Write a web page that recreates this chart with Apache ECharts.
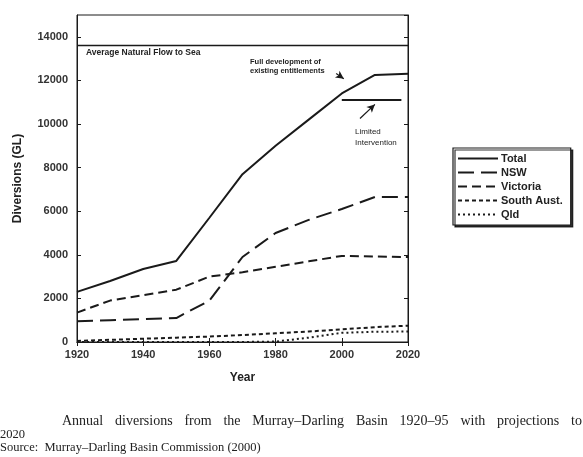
<!DOCTYPE html>
<html><head><meta charset="utf-8">
<script src="https://cdn.jsdelivr.net/npm/echarts@6/dist/echarts.min.js"></script>
<style>html,body{margin:0;padding:0;background:#fff}#c{width:583px;height:457px}</style>
</head><body><div id="c"></div>
<script>
const years = [1920, 1930, 1940, 1950, 1960, 1970, 1980, 1990, 2000, 2010, 2020];
const total    = [2300, 2800, 3350, 3720, 5700, 7700, 9000, 10200, 11400, 12250, 12300];
const nsw      = [950, 1000, 1050, 1100, 1900, 3900, 5000, 5600, 6100, 6650, 6650];
const victoria = [1350, 1900, 2150, 2400, 3000, 3200, 3450, 3700, 3950, 3920, 3900];
const southAust= [50, 100, 150, 200, 250, 320, 400, 480, 580, 680, 750];
const qld      = [0, 0, 0, 0, 0, 0, 20, 200, 420, 470, 480];
const seriesNames = ['Total', 'NSW', 'Victoria', 'South Aust.', 'Qld'];
const flowToSea = 13600;
const limitedYears = [2000, 2018];
const limitedValue = 11100;
const yTicks = [0, 2000, 4000, 6000, 8000, 10000, 12000, 14000];
const xTicks = [1920, 1940, 1960, 1980, 2000, 2020];
const captionWords = ['Annual', 'diversions', 'from', 'the', 'Murray\u2013Darling', 'Basin', '1920\u201395', 'with', 'projections', 'to'];

const pair = arr => years.map((y, i) => [y, arr[i]]);
const dashes = [null, [16, 7], [9, 5], [4, 3], [2, 3]];
const allData = [total, nsw, victoria, southAust, qld];
const ink = '#1a1a1a';
const tickFont = {fontFamily: 'Arial, Liberation Sans, sans-serif', fontSize: 11, fontWeight: 'bold', color: '#333'};

const chart = echarts.init(document.getElementById('c'), null, {renderer: 'canvas'});
const series = seriesNames.map((n, i) => ({
  name: n, type: 'line', data: pair(allData[i]), showSymbol: false, symbol: 'none',
  lineStyle: {color: ink, width: 2, type: dashes[i] || 'solid'}, itemStyle: {color: ink}, z: 5
}));
series.push({
  name: 'flow', type: 'line', data: [[xTicks[0], flowToSea], [xTicks[xTicks.length-1], flowToSea]],
  showSymbol: false, symbol: 'none', lineStyle: {color: ink, width: 1.5}, silent: true
});
series.push({
  name: 'limited', type: 'line', data: limitedYears.map(y => [y, limitedValue]),
  showSymbol: false, symbol: 'none', lineStyle: {color: ink, width: 2}, silent: true,
  markLine: {
    silent: true, symbol: ['none', 'arrow'], symbolSize: [6, 8],
    lineStyle: {color: ink, width: 1.2, type: 'solid'}, label: {show: false},
    data: [
      [{coord: [2005.5, 10250]}, {coord: [2010, 10900]}],
      [{coord: [1998.3, 12320]}, {coord: [2000.6, 12080]}]
    ]
  }
});

// justified caption line
const capFont = '12.5px "Liberation Serif", Times, serif';
const capFont1 = '14px "Liberation Serif", Times, serif';
const ctx = document.createElement('canvas').getContext('2d');
ctx.font = capFont1;
const capLeft = 62, capRight = 582;
const wordW = captionWords.map(w => ctx.measureText(w).width);
const gap = (capRight - capLeft - wordW.reduce((a, b) => a + b, 0)) / (captionWords.length - 1);
let cx = capLeft;
const capGraphics = captionWords.map((w, i) => {
  const g = {type: 'text', left: cx, top: 414, style: {text: w, font: capFont1, fill: '#222'}};
  cx += wordW[i] + gap;
  return g;
});

chart.setOption({
  animation: false,
  backgroundColor: '#fff',
  grid: {left: 77, right: 175, top: 15, bottom: 115, show: true, borderColor: ink, borderWidth: 1},
  legend: {
    data: seriesNames, orient: 'vertical', left: 453, top: 148,
    itemWidth: 40, itemHeight: 10, itemGap: 3, padding: [5, 8, 5, 4],
    borderColor: ink, borderWidth: 1.2, backgroundColor: '#fff',
    shadowColor: 'rgba(0,0,0,0.8)', shadowOffsetX: 2, shadowOffsetY: 2, shadowBlur: 0,
    itemStyle: {opacity: 0},
    lineStyle: {width: 2},
    textStyle: {fontFamily: 'Arial, Liberation Sans, sans-serif', fontSize: 11, fontWeight: 'bold', color: '#222', padding: [0, 0, 0, -2]},
    selectedMode: false
  },
  xAxis: [{
    type: 'value', min: 1920, max: 2020, interval: 20,
    name: 'Year', nameLocation: 'middle', nameGap: 30,
    nameTextStyle: {fontFamily: 'Arial, Liberation Sans, sans-serif', fontSize: 12, fontWeight: 'bold', color: '#222'},
    axisLine: {lineStyle: {color: ink}}, axisTick: {inside: true, length: 4, lineStyle: {color: ink}},
    axisLabel: Object.assign({margin: 7, formatter: v => String(v)}, tickFont), splitLine: {show: false}
  }, {
    type: 'value', min: 1920, max: 2020, interval: 20, position: 'top',
    axisLine: {lineStyle: {color: ink}}, axisTick: {inside: true, length: 4, lineStyle: {color: ink}},
    axisLabel: {show: false}, splitLine: {show: false}
  }],
  yAxis: [{
    type: 'value', min: 0, max: 15000, interval: 2000,
    name: 'Diversions (GL)', nameLocation: 'middle', nameGap: 53, nameRotate: 90,
    nameTextStyle: {fontFamily: 'Arial, Liberation Sans, sans-serif', fontSize: 12, fontWeight: 'bold', color: '#222'},
    axisLine: {lineStyle: {color: ink}}, axisTick: {inside: true, length: 4, lineStyle: {color: ink}},
    axisLabel: Object.assign({margin: 9, showMaxLabel: false, formatter: v => String(v)}, tickFont), splitLine: {show: false}
  }, {
    type: 'value', min: 0, max: 15000, interval: 2000, position: 'right',
    axisLine: {lineStyle: {color: ink}}, axisTick: {inside: true, length: 4, lineStyle: {color: ink}},
    axisLabel: {show: false}, splitLine: {show: false}
  }],
  series: series,
  graphic: [
    {type: 'text', left: 86, top: 48, style: {text: 'Average Natural Flow to Sea', font: 'bold 8.5px Arial, Liberation Sans, sans-serif', fill: '#222'}},
    {type: 'text', left: 250, top: 57, style: {text: 'Full development of\nexisting entitlements', font: 'bold 7.5px Arial, Liberation Sans, sans-serif', fill: '#222', lineHeight: 9}},
    {type: 'text', left: 355, top: 126, style: {text: 'Limited\nIntervention', font: '8px Arial, Liberation Sans, sans-serif', fill: '#222', lineHeight: 11}},
    {type: 'text', left: 0, top: 428, style: {text: '2020', font: capFont, fill: '#222'}},
    {type: 'text', left: 0, top: 441, style: {text: 'Source:  Murray\u2013Darling Basin Commission (2000)', font: capFont, fill: '#222'}}
  ].concat(capGraphics)
});
</script></body></html>
